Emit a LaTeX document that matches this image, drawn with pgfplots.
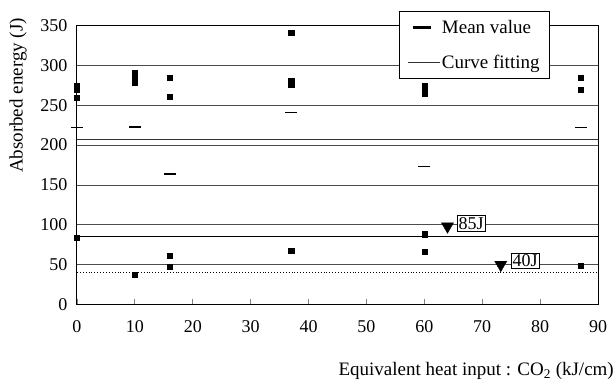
\documentclass[border=0pt]{standalone}
\usepackage{pgfplots}
\pgfplotsset{compat=1.18}
\usepackage{fontspec}
\setmainfont{Liberation Serif}
\newcommand\ff{\fontsize{18}{21}\selectfont}
\newcommand\fl{\fontsize{19}{22}\selectfont}
\begin{document}
\begin{tikzpicture}
\begin{axis}[
  scale only axis, width=521pt, height=278.6pt,
  xmin=0, xmax=90, ymin=0, ymax=350,
  xtick={0,10,...,90}, ytick={0,50,...,350},
  clip=false,
  axis line style={line width=1pt},
  tick align=inside, xtick pos=bottom, ytick pos=left,
  major tick length=5pt,
  xtick style={line width=0.8pt},
  ytick style={draw=none},
  ymajorgrids, grid style={black!70, line width=0.7pt},
  /pgf/number format/assume math mode=true,
  tick label style={font=\ff},
  xticklabel style={yshift=-13pt},
  yticklabel style={xshift=-6pt},
  legend style={at={(axis cs:55.6,369)}, anchor=north west, draw=black, line width=0.8pt,
    fill=white, inner xsep=8pt, inner ysep=7pt, row sep=16pt, font=\fl,
    /tikz/every even column/.append style={column sep=4pt}},
  legend cell align=left,
]
% mean values
\addplot[only marks, mark=-, mark size=6pt, mark options={line width=1.8pt},
  legend image code/.code={\draw[line width=2.6pt] (5pt,0pt) -- (23pt,0pt);}]
  coordinates {(0,222) (10,223) (16,164) (37,241) (60,173) (87,222)};
\addlegendentry{Mean value}
% curve fitting
\addplot[black!80, line width=0.7pt,
  legend image code/.code={\draw[line width=0.7pt, black!80] (0pt,0pt) -- (32pt,0pt);}]
  coordinates {(0,207.5) (90,207.5)};
\addlegendentry{Curve fitting}
% 85 J line and 40 J dotted line
\addplot[black, line width=1pt, forget plot] coordinates {(0,85) (90,85)};
\addplot[black, dotted, line width=0.9pt, forget plot] coordinates {(0,40) (90,40)};
% individual values
\addplot[only marks, mark=square*, mark size=2.6pt, forget plot] coordinates {
  (0,274) (0,270) (0,260) (0,84)
  (10,291) (10,285) (10,279) (10,37)
  (16,285) (16,261) (16,61) (16,47)
  (37,341) (37,281) (37,276) (37,67)
  (60,274) (60,269) (60,265) (60,88) (60,66)
  (87,285) (87,270) (87,48)
};
% requirement markers
\addplot[only marks, mark=triangle*, mark size=7pt, mark options={rotate=180}, forget plot]
  coordinates {(64,98) (73.2,49.7)};
\node[draw, fill=white, inner sep=1.5pt, line width=0.6pt, font=\ff] at (axis cs:68.1,101.7) {85J};
\node[draw, fill=white, inner sep=1.5pt, line width=0.6pt, font=\ff] at (axis cs:77.4,54.4) {40J};
\end{axis}
\node[rotate=90, anchor=east, inner sep=0pt, font=\fl] at ([xshift=-59pt, yshift=7.7pt]current axis.north west) {Absorbed energy (J)};
\node[anchor=base east, inner sep=0pt, font=\fl] at ([xshift=16pt, yshift=-71pt]current axis.south east) {Equivalent heat input : CO\textsubscript{2} (kJ/cm)};
\pgfresetboundingbox
\path[use as bounding box] ([xshift=-77pt, yshift=-77.7pt]current axis.south west) rectangle ([xshift=18pt, yshift=25.7pt]current axis.north east);
\end{tikzpicture}
\end{document}
